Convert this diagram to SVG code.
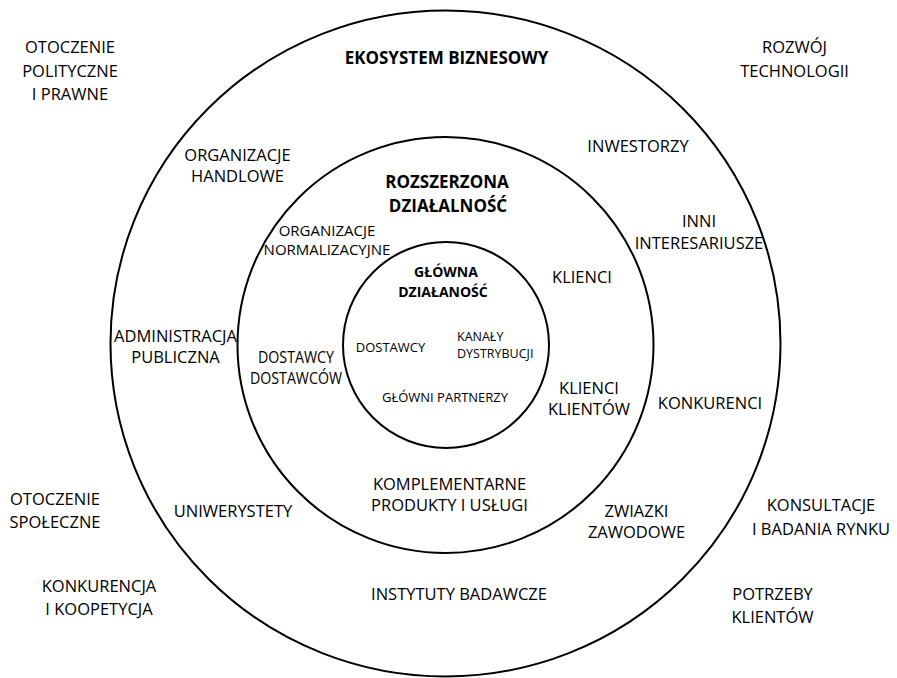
<svg xmlns="http://www.w3.org/2000/svg" width="897" height="678" viewBox="0 0 897 678">
  <style>
    .ring { fill: none; stroke: #000; stroke-width: 2; }
    text { font-family: "Open Sans", "Noto Sans", sans-serif; fill: #000; text-anchor: middle; }
    .lg { font-size: 16.5px; }
    .md { font-size: 15px; }
    .sm { font-size: 13px; }
    .xs { font-size: 12.5px; }
    .left text { text-anchor: start; }
    .title { font-size: 17px; font-weight: bold; }
    .title-sm { font-size: 14px; font-weight: bold; }
  </style>
  <rect width="897" height="678" fill="#fff"/>

  <!-- concentric rings -->
  <g id="rings">
    <ellipse id="ring-outer" class="ring" cx="445.5" cy="343.5" rx="335" ry="333"/>
    <circle id="ring-middle" class="ring" cx="445.5" cy="345" r="208"/>
    <circle id="ring-inner" class="ring" cx="446" cy="345" r="103"/>
  </g>

  <!-- environment outside the ecosystem -->
  <g id="env-political" class="lg"><text x="70" y="53">OTOCZENIE</text><text x="70" y="77">POLITYCZNE</text><text x="70" y="100">I PRAWNE</text></g>
  <g id="env-technology" class="lg"><text x="794.5" y="53">ROZWÓJ</text><text x="794.5" y="77">TECHNOLOGII</text></g>
  <g id="env-social" class="lg"><text x="55" y="505">OTOCZENIE</text><text x="55" y="528">SPOŁECZNE</text></g>
  <g id="env-competition" class="lg"><text x="99" y="592">KONKURENCJA</text><text x="99" y="615">I KOOPETYCJA</text></g>
  <g id="env-consulting" class="lg"><text x="821" y="511">KONSULTACJE</text><text x="821" y="535">I BADANIA RYNKU</text></g>
  <g id="env-needs" class="lg"><text x="772.5" y="600">POTRZEBY</text><text x="772.5" y="623">KLIENTÓW</text></g>

  <!-- business ecosystem ring -->
  <g id="ecosystem-title"><text class="title" x="446.5" y="64">EKOSYSTEM BIZNESOWY</text></g>
  <g id="trade-orgs" class="lg"><text x="237.5" y="161">ORGANIZACJE</text><text x="237.5" y="182">HANDLOWE</text></g>
  <g id="investors" class="lg"><text x="638" y="152">INWESTORZY</text></g>
  <g id="stakeholders" class="lg"><text x="699" y="227">INNI</text><text x="699" y="249">INTERESARIUSZE</text></g>
  <g id="public-admin" class="lg"><text x="175.5" y="342">ADMINISTRACJA</text><text x="175.5" y="363">PUBLICZNA</text></g>
  <g id="competitors" class="lg"><text x="710" y="409">KONKURENCI</text></g>
  <g id="universities" class="lg"><text x="233" y="517">UNIWERYSTETY</text></g>
  <g id="unions" class="lg"><text x="636.5" y="517">ZWIAZKI</text><text x="636.5" y="538">ZAWODOWE</text></g>
  <g id="research" class="lg"><text x="459" y="600">INSTYTUTY BADAWCZE</text></g>

  <!-- extended enterprise ring -->
  <g id="extended-title"><text class="title" x="447" y="188">ROZSZERZONA</text><text class="title" x="448" y="212">DZIAŁALNOŚĆ</text></g>
  <g id="standards-orgs" class="md"><text x="327" y="236">ORGANIZACJE</text><text x="327" y="255">NORMALIZACYJNE</text></g>
  <g id="customers" class="lg"><text x="582" y="283">KLIENCI</text></g>
  <g id="suppliers-suppliers" class="lg"><text x="296" y="363" textLength="76" lengthAdjust="spacingAndGlyphs">DOSTAWCY</text><text x="296" y="384" textLength="92" lengthAdjust="spacingAndGlyphs">DOSTAWCÓW</text></g>
  <g id="customers-customers" class="lg"><text x="589" y="394">KLIENCI</text><text x="589" y="415">KLIENTÓW</text></g>
  <g id="complementary" class="lg"><text x="449.5" y="490">KOMPLEMENTARNE</text><text x="449.5" y="511">PRODUKTY I USŁUGI</text></g>

  <!-- core business -->
  <g id="core-title"><text class="title-sm" x="446" y="277">GŁÓWNA</text><text class="title-sm" x="443" y="297">DZIAŁANOŚĆ</text></g>
  <g id="suppliers" class="sm"><text x="390.5" y="352">DOSTAWCY</text></g>
  <g id="channels" class="xs left"><text x="457" y="341">KANAŁY</text><text x="457" y="358">DYSTRYBUCJI</text></g>
  <g id="partners" class="sm"><text x="445" y="402">GŁÓWNI PARTNERZY</text></g>
</svg>
